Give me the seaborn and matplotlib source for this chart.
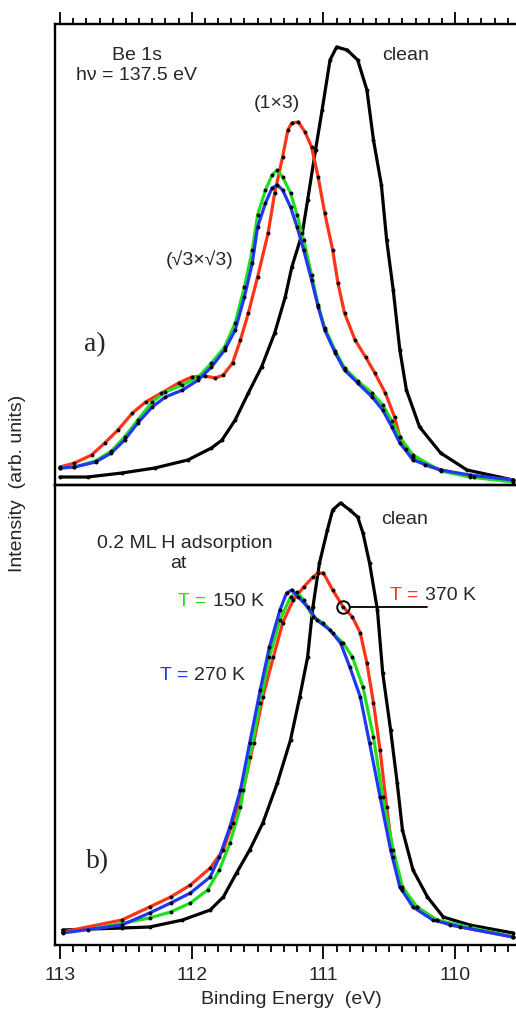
import numpy as np
import pandas as pd
import matplotlib
matplotlib.use("Agg")
import matplotlib.pyplot as plt
from matplotlib.ticker import MultipleLocator
import seaborn as sns

# ---------------- data (binding energy eV, intensity arb. units) ----------------
# panel a)  clean surface
a_clean_E = [113.00, 112.79, 112.53, 112.28, 112.03, 111.85, 111.77, 111.67, 111.57, 111.47,
             111.37, 111.29, 111.24, 111.16, 111.12, 111.06, 111.01, 110.95, 110.90, 110.82,
             110.74, 110.67, 110.62, 110.56, 110.52, 110.47, 110.42, 110.37, 110.27, 110.11,
             109.91, 109.56]
a_clean_I = [0.08, 0.08, 0.12, 0.17, 0.25, 0.37, 0.45, 0.65, 0.92, 1.18,
             1.52, 1.88, 2.18, 2.52, 2.85, 3.35, 3.75, 4.25, 4.38, 4.35,
             4.25, 3.95, 3.45, 3.00, 2.45, 1.95, 1.35, 0.95, 0.58, 0.32,
             0.15, 0.05]

# panel a)  (1x3)
a_1x3_E = [113.00, 112.89, 112.76, 112.66, 112.56, 112.45, 112.35, 112.23, 112.10, 112.00,
           111.90, 111.82, 111.76, 111.69, 111.63, 111.57, 111.50, 111.42, 111.37, 111.31,
           111.27, 111.24, 111.19, 111.14, 111.09, 111.04, 110.99, 110.93, 110.89, 110.84,
           110.76, 110.68, 110.61, 110.53, 110.46, 110.42, 110.37, 110.32, 110.23, 110.11,
           109.86, 109.56]
a_1x3_I = [0.18, 0.22, 0.30, 0.42, 0.55, 0.72, 0.83, 0.92, 1.02, 1.08,
           1.09, 1.07, 1.10, 1.22, 1.45, 1.72, 2.08, 2.52, 2.92, 3.28,
           3.55, 3.62, 3.63, 3.53, 3.38, 3.08, 2.72, 2.35, 2.02, 1.72,
           1.45, 1.28, 1.12, 0.92, 0.68, 0.48, 0.36, 0.28, 0.20, 0.15,
           0.08, 0.05]

# panel a)  (sqrt3 x sqrt3): two spectra (green, blue)
a_r3_E = [113.00, 112.89, 112.73, 112.61, 112.51, 112.41, 112.30, 112.20, 112.07, 111.95,
          111.85, 111.75, 111.67, 111.60, 111.54, 111.50, 111.44, 111.39, 111.35, 111.31,
          111.25, 111.20, 111.15, 111.09, 111.04, 110.99, 110.91, 110.84, 110.74, 110.63,
          110.55, 110.48, 110.42, 110.32, 110.11, 109.89, 109.56]
a_r3_blue_I = [0.17, 0.18, 0.23, 0.32, 0.45, 0.62, 0.78, 0.88, 0.95, 1.05,
               1.18, 1.35, 1.55, 1.88, 2.22, 2.58, 2.82, 2.97, 3.00, 2.95,
               2.78, 2.58, 2.35, 2.05, 1.78, 1.55, 1.32, 1.15, 1.02, 0.88,
               0.75, 0.58, 0.42, 0.25, 0.15, 0.10, 0.05]
a_r3_green_I = [0.17, 0.18, 0.24, 0.34, 0.48, 0.65, 0.83, 0.93, 1.00, 1.08,
                1.22, 1.38, 1.62, 1.98, 2.35, 2.70, 2.95, 3.10, 3.15, 3.08,
                2.92, 2.70, 2.45, 2.10, 1.80, 1.57, 1.34, 1.17, 1.04, 0.92,
                0.80, 0.64, 0.48, 0.30, 0.14, 0.08, 0.03]

# panel b)  clean surface
b_clean_E = [112.98, 112.53, 112.32, 112.07, 111.86, 111.76, 111.66, 111.56, 111.46, 111.35,
             111.25, 111.18, 111.12, 111.08, 111.03, 110.97, 110.93, 110.87, 110.80, 110.74,
             110.70, 110.65, 110.59, 110.55, 110.49, 110.44, 110.40, 110.32, 110.21, 110.09,
             109.89, 109.56]
b_clean_I = [0.15, 0.17, 0.18, 0.25, 0.35, 0.48, 0.72, 0.95, 1.22, 1.62,
             2.05, 2.48, 2.88, 3.38, 3.82, 4.15, 4.35, 4.42, 4.35, 4.28,
             4.12, 3.82, 3.35, 2.72, 2.15, 1.62, 1.15, 0.75, 0.48, 0.28,
             0.20, 0.12]

# panel b)  H adsorption at T = 370 K
b_370_E = [112.98, 112.53, 112.32, 112.16, 112.01, 111.86, 111.76, 111.69, 111.61, 111.53,
           111.46, 111.38, 111.31, 111.23, 111.15, 111.08, 111.04, 111.00, 110.93, 110.85,
           110.78, 110.72, 110.67, 110.62, 110.57, 110.52, 110.47, 110.40, 110.29, 110.14,
           110.04, 109.56]
b_370_I = [0.13, 0.25, 0.38, 0.48, 0.60, 0.77, 0.95, 1.22, 1.55, 2.02,
           2.48, 2.88, 3.22, 3.45, 3.58, 3.68, 3.72, 3.72, 3.55, 3.38,
           3.28, 3.12, 2.82, 2.42, 1.95, 1.38, 0.88, 0.55, 0.38, 0.25,
           0.20, 0.08]

# panel b)  H adsorption at T = 270 K
b_270_E = [112.98, 112.53, 112.32, 112.16, 112.01, 111.86, 111.79, 111.71, 111.63, 111.56,
           111.48, 111.41, 111.33, 111.28, 111.24, 111.19, 111.12, 111.05, 110.95, 110.87,
           110.80, 110.72, 110.65, 110.57, 110.49, 110.42, 110.32, 110.17, 109.96, 109.56]
b_270_I = [0.12, 0.20, 0.32, 0.42, 0.52, 0.68, 0.88, 1.18, 1.55, 2.02,
           2.55, 2.98, 3.35, 3.52, 3.55, 3.48, 3.38, 3.25, 3.15, 3.02,
           2.78, 2.48, 2.02, 1.48, 0.95, 0.58, 0.38, 0.25, 0.18, 0.08]

# panel b)  H adsorption at T = 150 K
b_150_E = [112.79, 112.32, 112.16, 112.01, 111.88, 111.79, 111.71, 111.63, 111.56, 111.48,
           111.41, 111.33, 111.25, 111.20, 111.15, 111.08, 111.00, 110.93, 110.85, 110.78,
           110.70, 110.62, 110.55, 110.47, 110.40, 110.29, 110.14, 109.56]
b_150_I = [0.15, 0.27, 0.33, 0.42, 0.55, 0.75, 1.02, 1.38, 1.88, 2.42,
           2.88, 3.25, 3.48, 3.53, 3.45, 3.28, 3.22, 3.12, 3.02, 2.88,
           2.58, 2.08, 1.48, 0.95, 0.58, 0.38, 0.25, 0.08]

RED = "#ff3315"
GREEN = "#1fe01f"
BLUE = "#2238f0"
BLACK = "#000000"

# ---------------- figure ----------------
sns.set_style("white")
plt.rcParams["font.family"] = ["Liberation Sans", "DejaVu Sans"]

W, H = 516, 1009
fig = plt.figure(figsize=(W / 100, H / 100), dpi=100)

def fx(px):
    return px / W

def fy(py):
    return 1 - py / H

ax_a = fig.add_axes([fx(55), fy(485), fx(516) - fx(55), fy(24) - fy(485)])
ax_b = fig.add_axes([fx(55), fy(945), fx(516) - fx(55), fy(485) - fy(945)])

XL = (113.038, 109.538)

def draw(ax, E, I, color, z):
    df = pd.DataFrame({"E": E, "I": I})
    sns.lineplot(data=df, x="E", y="I", ax=ax, color=color, lw=2.3, sort=False,
                 estimator=None, zorder=z)
    sns.scatterplot(data=df, x="E", y="I", ax=ax, color=BLACK, s=8, linewidth=0,
                    zorder=z + 5)

draw(ax_a, a_clean_E, a_clean_I, BLACK, 2)
draw(ax_a, a_1x3_E, a_1x3_I, RED, 3)
draw(ax_a, a_r3_E, a_r3_green_I, GREEN, 4)
draw(ax_a, a_r3_E, a_r3_blue_I, BLUE, 5)

draw(ax_b, b_clean_E, b_clean_I, BLACK, 2)
draw(ax_b, b_370_E, b_370_I, RED, 3)
draw(ax_b, b_150_E, b_150_I, GREEN, 4)
draw(ax_b, b_270_E, b_270_I, BLUE, 5)

for ax, yl in ((ax_a, (0, 4.61)), (ax_b, (0, 4.60))):
    ax.set_xlim(*XL)
    ax.set_ylim(*yl)
    ax.set_ylabel("")
    ax.set_xlabel("")
    ax.set_yticks([])
    ax.xaxis.set_major_locator(MultipleLocator(1))
    ax.xaxis.set_minor_locator(MultipleLocator(0.1))
    ax.spines["right"].set_visible(False)
    for s in ("left", "top", "bottom"):
        ax.spines[s].set_linewidth(1.7)
        ax.spines[s].set_color(BLACK)
    ax.patch.set_alpha(0)

# top panel: ticks on top only
ax_a.tick_params(axis="x", which="both", top=True, bottom=False, labeltop=False,
                 labelbottom=False, direction="out", width=1.3, color=BLACK)
ax_a.tick_params(axis="x", which="major", length=9)
ax_a.tick_params(axis="x", which="minor", length=4.5)

# bottom panel: ticks on bottom with labels
ax_b.tick_params(axis="x", which="both", top=False, bottom=True, labelbottom=True,
                 direction="out", width=1.3, color=BLACK)
ax_b.tick_params(axis="x", which="major", length=10, labelsize=14, pad=6)
ax_b.tick_params(axis="x", which="minor", length=5)
ax_b.set_xticks([113, 112, 111, 110])
ax_b.set_xticklabels(["113", "112", "111", "110"])
ax_b.set_xlabel("")

fig.text(fx(291), fy(1000), "Binding Energy  (eV)", ha="center", va="center", fontsize=14)
fig.text(fx(18), fy(483), "Intensity  (arb. units)", rotation=90, ha="center",
         va="center", fontsize=14)

# annotations panel a
fs = 14
fig.text(fx(137), fy(55), "Be 1s", ha="center", va="center", fontsize=fs)
fig.text(fx(136), fy(76), "h\u03bd = 137.5 eV", ha="center", va="center", fontsize=fs)
fig.text(fx(406), fy(56), "clean", ha="center", va="center", fontsize=fs)
fig.text(fx(277), fy(103), "(1\u00d73)", ha="center", va="center", fontsize=fs)
fig.text(fx(200), fy(260), "(\u221a3\u00d7\u221a3)", ha="center", va="center", fontsize=fs)
fig.text(fx(95), fy(345), "a)", ha="center", va="center", fontsize=20,
         family=["Liberation Serif", "DejaVu Serif"])

# annotations panel b
fig.text(fx(405), fy(520), "clean", ha="center", va="center", fontsize=fs)
fig.text(fx(185), fy(543), "0.2 ML H adsorption", ha="center", va="center", fontsize=fs)
fig.text(fx(178), fy(564), "at", ha="center", va="center", fontsize=fs)
fig.text(fx(178), fy(602), "T =", ha="left", va="center", fontsize=fs, color=GREEN)
fig.text(fx(213), fy(602), "150 K", ha="left", va="center", fontsize=fs)
fig.text(fx(160), fy(675), "T =", ha="left", va="center", fontsize=fs, color=BLUE)
fig.text(fx(194), fy(675), "270 K", ha="left", va="center", fontsize=fs)
fig.text(fx(390), fy(595), "T =", ha="left", va="center", fontsize=fs, color=RED)
fig.text(fx(425), fy(595), "370 K", ha="left", va="center", fontsize=fs)
fig.text(fx(98), fy(862), "b)", ha="center", va="center", fontsize=20,
         family=["Liberation Serif", "DejaVu Serif"])

# pointer for 370 K curve
ax_b.plot([110.80, 110.21], [3.38, 3.38], color=BLACK, lw=1.3, zorder=10)
ax_b.plot([110.85], [3.38], marker="o", ms=9, mfc="none", mec=BLACK, mew=1.4, zorder=10)

fig.savefig("out.png", dpi=100)
